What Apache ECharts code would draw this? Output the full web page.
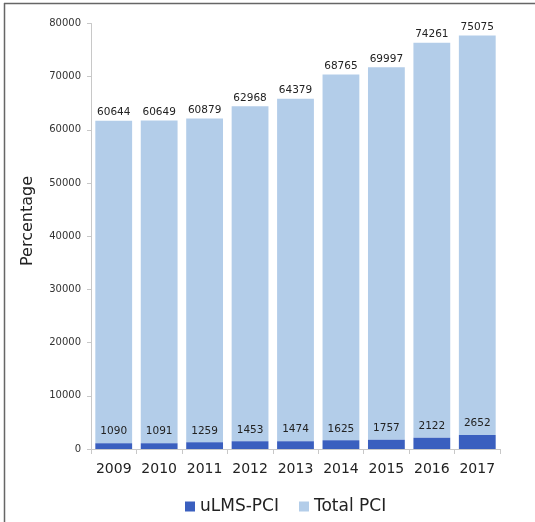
<!DOCTYPE html>
<html>
<head>
<meta charset="utf-8">
<title>PCI by year</title>
<script src="https://cdn.jsdelivr.net/npm/echarts@6/dist/echarts.min.js"></script>
<style>
  html, body { margin: 0; padding: 0; background: #fff; }
  #chart { width: 535px; height: 522px; }
</style>
</head>
<body>
<div id="chart"></div>
<script>
// Yearly procedure counts
const years = ['2009', '2010', '2011', '2012', '2013', '2014', '2015', '2016', '2017'];
const ulmsPci = [1090, 1091, 1259, 1453, 1474, 1625, 1757, 2122, 2652];
const totalPci = [60644, 60649, 60879, 62968, 64379, 68765, 69997, 74261, 75075];
const yTicks = [0, 10000, 20000, 30000, 40000, 50000, 60000, 70000, 80000];

const FONT = '"DejaVu Sans", Verdana, sans-serif';
const chart = echarts.init(document.getElementById('chart'), null, { renderer: 'canvas' });

chart.setOption({
  animation: false,
  backgroundColor: '#ffffff',
  grid: { left: 91, right: 35, top: 23.5, bottom: 73, containLabel: false },
  legend: {
    left: 180,
    top: 493,
    itemWidth: 10,
    itemHeight: 10,
    itemGap: 20,
    icon: 'rect',
    textStyle: { fontFamily: FONT, fontSize: 17, color: '#222' },
    data: ['uLMS-PCI', 'Total PCI']
  },
  xAxis: {
    type: 'category',
    data: years,
    axisLine: { lineStyle: { color: '#c8c8c8', width: 1 } },
    axisTick: { show: true, length: 5, lineStyle: { color: '#c8c8c8' } },
    axisLabel: { interval: 0, fontFamily: FONT, fontSize: 14, color: '#222', margin: 13 }
  },
  yAxis: {
    type: 'value',
    min: yTicks[0],
    max: yTicks[yTicks.length - 1],
    interval: yTicks[1] - yTicks[0],
    splitLine: { show: false },
    axisLine: { show: true, lineStyle: { color: '#c8c8c8', width: 1 } },
    axisTick: { show: true, length: 4, lineStyle: { color: '#c8c8c8' } },
    axisLabel: {
      fontFamily: FONT, fontSize: 10, color: '#333', margin: 10,
      formatter: (v) => String(v)
    }
  },
  series: [
    {
      name: 'uLMS-PCI',
      type: 'bar',
      stack: 'pci',
      data: ulmsPci,
      barCategoryGap: '19%',
      itemStyle: { color: '#3a5fbf' },
      label: {
        show: true, position: 'top', distance: 6,
        fontFamily: FONT, fontSize: 10.5, color: '#222'
      },
      z: 3
    },
    {
      name: 'Total PCI',
      type: 'bar',
      stack: 'pci',
      data: totalPci,
      barCategoryGap: '19%',
      itemStyle: { color: '#b3cde9' },
      label: {
        show: true, position: 'top', distance: 3,
        fontFamily: FONT, fontSize: 10.5, color: '#222'
      },
      z: 2
    }
  ],
  graphic: [
    {
      type: 'text',
      x: 28, y: 221,
      rotation: Math.PI / 2,
      style: {
        text: 'Percentage',
        fontFamily: FONT, fontSize: 16, fill: '#222',
        align: 'center', verticalAlign: 'middle'
      }
    },
    {
      type: 'line',
      shape: { x1: 4, y1: 3.5, x2: 535, y2: 3.5 },
      style: { stroke: '#666', lineWidth: 1.5 }
    },
    {
      type: 'line',
      shape: { x1: 4.5, y1: 3, x2: 4.5, y2: 522 },
      style: { stroke: '#666', lineWidth: 1.5 }
    }
  ]
});
</script>
</body>
</html>
